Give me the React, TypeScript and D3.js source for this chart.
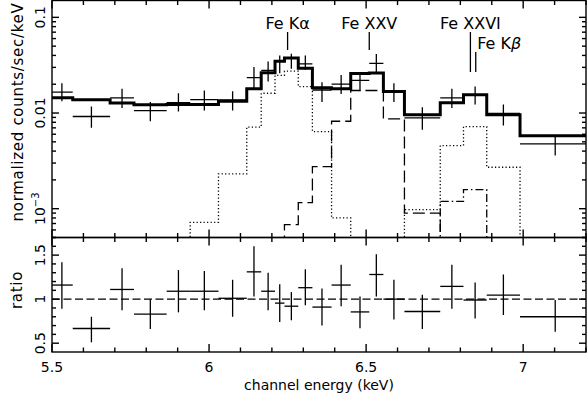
import React from 'react';
import * as d3 from 'd3';

// bins (keV) and spectrum
const binLo = [5.497, 5.566, 5.685, 5.761, 5.865, 5.94, 6.03, 6.12, 6.166, 6.21, 6.24, 6.284, 6.329, 6.39, 6.451, 6.51, 6.555, 6.622, 6.736, 6.81, 6.884, 6.99];
const binHi = [5.566, 5.685, 5.761, 5.865, 5.94, 6.03, 6.12, 6.166, 6.21, 6.24, 6.284, 6.329, 6.39, 6.451, 6.51, 6.555, 6.622, 6.736, 6.81, 6.884, 6.99, 7.214];

const counts = [0.0165, 0.0092, 0.0144, 0.0106, 0.0128, 0.0138, 0.0137, 0.0234, 0.0279, 0.0348, 0.0373, 0.0327, 0.0174, 0.0200, 0.0219, 0.0330, 0.0165, 0.0089, 0.0144, 0.0155, 0.0099, 0.00475];
const countsLo = [0.0133, 0.0070, 0.0113, 0.0082, 0.0104, 0.0106, 0.0106, 0.0179, 0.0214, 0.0261, 0.0290, 0.0283, 0.0130, 0.0158, 0.0169, 0.0262, 0.0130, 0.0067, 0.0113, 0.0123, 0.0074, 0.0036];
const countsHi = [0.0205, 0.0117, 0.0179, 0.0130, 0.0161, 0.0172, 0.0169, 0.0302, 0.0346, 0.0400, 0.0417, 0.0400, 0.0210, 0.0250, 0.0257, 0.0415, 0.0205, 0.0115, 0.0179, 0.0189, 0.0123, 0.0058];

const modelTotal = [0.0144, 0.0138, 0.0127, 0.0122, 0.0123, 0.0123, 0.0133, 0.0179, 0.0264, 0.0348, 0.0375, 0.0294, 0.0184, 0.0179, 0.0259, 0.0262, 0.0168, 0.0096, 0.0128, 0.0155, 0.0096, 0.0058];
const modelFeKa = [null, null, null, null, null, 7.2e-4, 2.31e-3, 7.13e-3, 0.0161, 0.0247, 0.0274, 0.0189, 0.0064, 8.0e-4, null, null, null, null, null, null, null, null];
const modelFeXXV = [null, null, null, null, null, null, null, null, null, null, 6.8e-4, 1.16e-3, 2.75e-3, 8.2e-3, 0.0172, 0.0172, 8.7e-3, 9.0e-4, null, null, null, null];
const modelFeXXVI = [null, null, null, null, null, null, null, null, null, null, null, null, null, null, null, null, null, 9.8e-4, 4.57e-3, 7.2e-3, 2.71e-3, null];
const modelFeKb = [null, null, null, null, null, null, null, null, null, null, null, null, null, null, null, null, null, null, 1.19e-3, 1.58e-3, null, null];

const ratio = [1.16, 0.667, 1.11, 0.83, 1.09, 1.09, 1.01, 1.31, 1.09, 0.955, 0.92, 1.13, 0.91, 1.16, 0.855, 1.28, 1.0, 0.86, 1.145, 0.99, 1.045, 0.80];
const ratioLo = [0.89, 0.51, 0.875, 0.66, 0.85, 0.875, 0.80, 1.03, 0.875, 0.74, 0.76, 0.93, 0.70, 0.92, 0.67, 1.03, 0.77, 0.66, 0.89, 0.78, 0.82, 0.63];
const ratioHi = [1.42, 0.80, 1.35, 1.0, 1.33, 1.32, 1.22, 1.60, 1.30, 1.17, 1.08, 1.34, 1.12, 1.39, 1.03, 1.51, 1.22, 1.05, 1.39, 1.19, 1.28, 0.99];

// line identifications
const lineNames = ['Fe Kα', 'Fe XXV', 'Fe XXVI', 'Fe Kβ'];
const lineEnergy = [6.25, 6.51, 6.832, 6.849];

const xTickVals = [5.5, 6, 6.5, 7];
const xTickText = ['5.5', '6', '6.5', '7'];
const ratioTickVals = [0.5, 1, 1.5];
const ratioTickText = ['0.5', '1', '1.5'];

const W = 587;
const H = 394;
const left = 52;
const right = 586;
const topY = 0.5;
const midY = 237.5;
const botY = 352;
const font = 'DejaVu Sans';

const x = d3.scaleLinear().domain([5.5, 7.2]).range([left, right]);
const y = d3.scaleLog().domain([5e-4, 0.15]).range([midY, topY]);
const yr = d3.scaleLinear().domain([0.4, 1.7]).range([botY, midY]);

const line = d3.line<[number, number]>();

// histogram step path; components drop to below the axis at both ends
function stepPath(vals: (number | null)[], dropToFloor: boolean) {
  const pts: [number, number][] = [];
  const idx = vals.map((v, i) => (v == null ? -1 : i)).filter((i) => i >= 0);
  if (dropToFloor) pts.push([x(binLo[idx[0]]), midY + 10]);
  idx.forEach((i) => {
    pts.push([x(binLo[i]), y(vals[i] as number)]);
    pts.push([x(binHi[i]), y(vals[i] as number)]);
  });
  if (dropToFloor) pts.push([x(binHi[idx[idx.length - 1]]), midY + 10]);
  return line(pts) || '';
}

export default function App() {
  const xMinor = d3.range(55, 73).map((d) => d / 10);
  const logTicks: { v: number; major: boolean }[] = [];
  for (let e = -4; e <= -1; e++) {
    for (let m = 1; m <= 9; m++) {
      const v = m * Math.pow(10, e);
      if (v >= 5e-4 && v <= 0.15) logTicks.push({ v, major: m === 1 });
    }
  }
  const rMinor = d3.range(5, 18).map((d) => d / 10);

  const stroke = '#000';
  const axisW = 1.4;

  const xTicks = (y0: number, dir: number, key: string) =>
    xMinor.map((v, i) => {
      const major = Math.abs(v * 2 - Math.round(v * 2)) < 1e-6;
      const len = major ? 8 : 4.5;
      return <line key={key + i} x1={x(v)} x2={x(v)} y1={y0} y2={y0 + dir * len} stroke={stroke} strokeWidth={axisW} />;
    });

  return (
    <svg width={W} height={H} style={{ position: 'absolute', left: 0, top: 0, background: '#fff' }} fontFamily={font}>
      <defs>
        <clipPath id="clipTop">
          <rect x={left} y={topY} width={right - left} height={midY - topY} />
        </clipPath>
        <clipPath id="clipBot">
          <rect x={left} y={midY} width={right - left} height={botY - midY} />
        </clipPath>
      </defs>

      {/* upper panel: spectrum */}
      <g clipPath="url(#clipTop)" fill="none">
        <path d={stepPath(modelFeKa, true)} stroke={stroke} strokeWidth={1.3} strokeDasharray="1.2,2.3" />
        <path d={stepPath(modelFeXXV, true)} stroke={stroke} strokeWidth={1.3} strokeDasharray="12,5" />
        <path d={stepPath(modelFeXXVI, true)} stroke={stroke} strokeWidth={1.3} strokeDasharray="1.2,2.3" />
        <path d={stepPath(modelFeKb, true)} stroke={stroke} strokeWidth={1.3} strokeDasharray="8,3,1.5,3" />
        <path d={stepPath(modelTotal, false)} stroke={stroke} strokeWidth={3} />
        {counts.map((c, i) => {
          const cx = x((binLo[i] + binHi[i]) / 2);
          return (
            <g key={'d' + i} stroke={stroke} strokeWidth={1.3}>
              <line x1={x(binLo[i])} x2={x(binHi[i])} y1={y(c)} y2={y(c)} />
              <line x1={cx} x2={cx} y1={y(countsLo[i])} y2={y(countsHi[i])} />
            </g>
          );
        })}
      </g>

      {/* line markers */}
      {lineNames.map((name, i) => {
        const lx = x(lineEnergy[i]);
        if (i === 0 || i === 1) {
          return (
            <g key={'l' + i}>
              <text x={lx} y={28.5} fontSize={16} textAnchor="middle">{name}</text>
              <line x1={lx} x2={lx} y1={32} y2={50} stroke={stroke} strokeWidth={1.3} />
            </g>
          );
        }
        if (i === 2) {
          return (
            <g key={'l' + i}>
              <text x={lx} y={28.5} fontSize={16} textAnchor="middle">{name}</text>
              <line x1={lx} x2={lx} y1={32} y2={72} stroke={stroke} strokeWidth={1.3} />
            </g>
          );
        }
        return (
          <g key={'l' + i}>
            <text x={lx + 1.5} y={49} fontSize={16}>
              Fe K<tspan fontStyle="italic">β</tspan>
            </text>
            <line x1={lx} x2={lx} y1={52} y2={72} stroke={stroke} strokeWidth={1.3} />
          </g>
        );
      })}

      {/* lower panel: ratio */}
      <g clipPath="url(#clipBot)">
        <line x1={left} x2={right} y1={yr(1)} y2={yr(1)} stroke={stroke} strokeWidth={1.3} strokeDasharray="8,3.5" />
        {ratio.map((r, i) => {
          const cx = x((binLo[i] + binHi[i]) / 2);
          return (
            <g key={'r' + i} stroke={stroke} strokeWidth={1.3}>
              <line x1={x(binLo[i])} x2={x(binHi[i])} y1={yr(r)} y2={yr(r)} />
              <line x1={cx} x2={cx} y1={yr(ratioLo[i])} y2={yr(ratioHi[i])} />
            </g>
          );
        })}
      </g>

      {/* frames */}
      <rect x={left} y={topY} width={right - left} height={midY - topY} fill="none" stroke={stroke} strokeWidth={axisW} />
      <rect x={left} y={midY} width={right - left} height={botY - midY} fill="none" stroke={stroke} strokeWidth={axisW} />

      {/* x ticks on both panels */}
      {xTicks(topY, 1, 'tt')}
      {xTicks(midY, -1, 'tb')}
      {xTicks(midY, 1, 'bt')}
      {xTicks(botY, -1, 'bb')}

      {/* log y ticks */}
      {logTicks.map((t, i) => {
        const len = t.major ? 7 : 4;
        return (
          <g key={'ly' + i} stroke={stroke} strokeWidth={axisW}>
            <line x1={left} x2={left + len} y1={y(t.v)} y2={y(t.v)} />
            <line x1={right} x2={right - len} y1={y(t.v)} y2={y(t.v)} />
          </g>
        );
      })}

      {/* ratio y ticks */}
      {rMinor.map((v, i) => {
        const major = Math.abs(v * 2 - Math.round(v * 2)) < 1e-6;
        const len = major ? 7 : 4;
        return (
          <g key={'ry' + i} stroke={stroke} strokeWidth={axisW}>
            <line x1={left} x2={left + len} y1={yr(v)} y2={yr(v)} />
            <line x1={right} x2={right - len} y1={yr(v)} y2={yr(v)} />
          </g>
        );
      })}

      {/* tick labels */}
      {xTickVals.map((v, i) => (
        <text key={'xl' + i} x={x(v)} y={372} fontSize={14} textAnchor="middle">{xTickText[i]}</text>
      ))}
      <text transform={`translate(45,${y(0.1)}) rotate(-90)`} fontSize={14} textAnchor="middle">0.1</text>
      <text transform={`translate(45,${y(0.01)}) rotate(-90)`} fontSize={14} textAnchor="middle">0.01</text>
      <text transform={`translate(45,${y(0.001)}) rotate(-90)`} fontSize={14} textAnchor="middle">
        10<tspan fontSize={10} dy={-6}>−3</tspan>
      </text>
      {ratioTickVals.map((v, i) => (
        <text key={'rl' + i} transform={`translate(45,${yr(v)}) rotate(-90)`} fontSize={14} textAnchor="middle">{ratioTickText[i]}</text>
      ))}

      {/* axis titles */}
      <text transform="translate(23,112) rotate(-90)" fontSize={15} letterSpacing={0.7} textAnchor="middle">normalized counts/sec/keV</text>
      <text transform="translate(22,290) rotate(-90)" fontSize={15} letterSpacing={0.7} textAnchor="middle">ratio</text>
      <text x={(left + right) / 2} y={390} fontSize={14} textAnchor="middle">channel energy (keV)</text>
    </svg>
  );
}
